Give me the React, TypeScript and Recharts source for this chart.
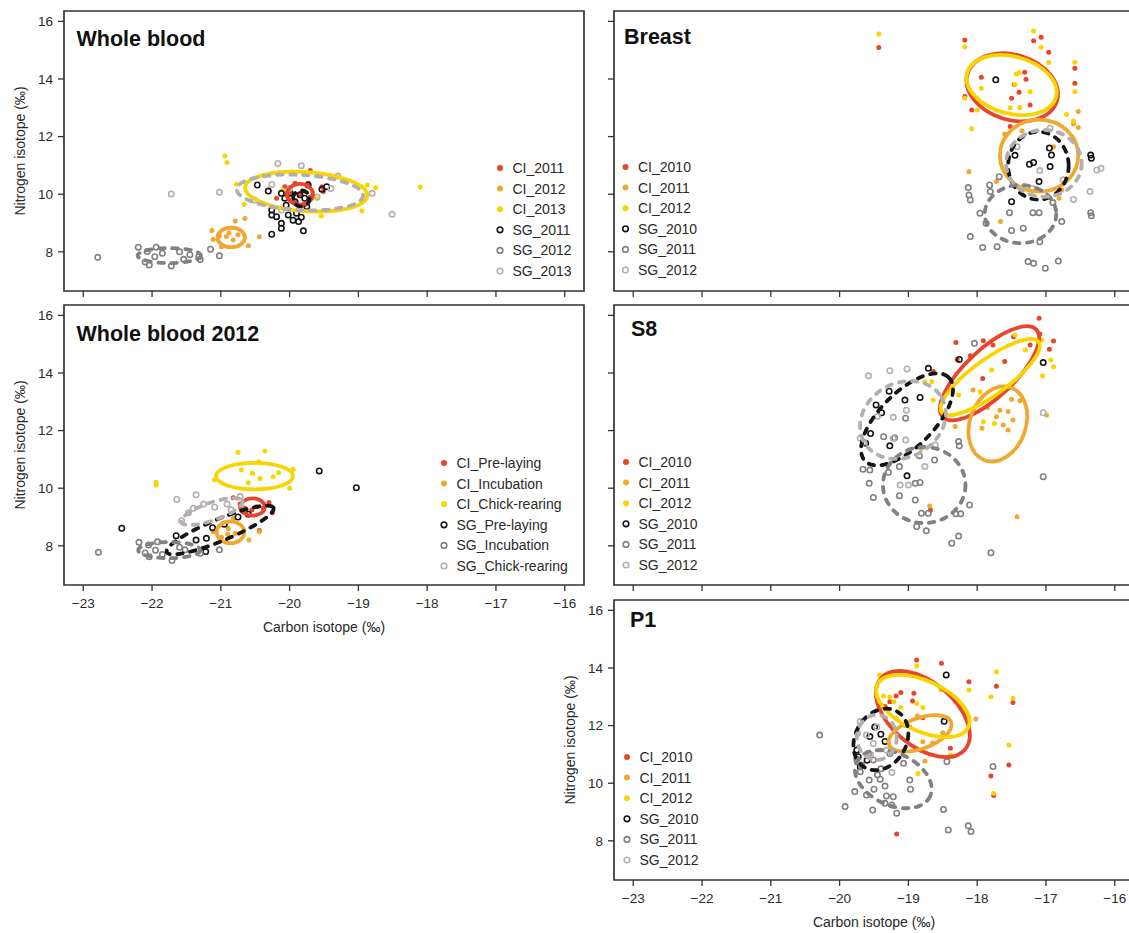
import { ScatterChart, Scatter, XAxis, YAxis, ReferenceArea } from 'recharts'

type Pt = [number, number]
// ellipse: centre x, centre y, half axis along x (carbon), half axis along y (nitrogen), tilt in degrees
type Ell = [number, number, number, number, number]

const X_TICKS = [-23, -22, -21, -20, -19, -18, -17, -16]
const Y_TICKS = [8, 10, 12, 14, 16]
const X_DOMAIN: [number, number] = [-23.28, -15.72]
const Y_DOMAIN: [number, number] = [6.64, 16.36]

// ---- Whole blood ----
const WB_NAMES = ['CI_2011', 'CI_2012', 'CI_2013', 'SG_2011', 'SG_2012', 'SG_2013']
const WB_CI_2011: Pt[] = [[-20.07, 10.26], [-19.92, 10.38], [-19.73, 10.38], [-19.53, 10.26], [-19.51, 10.09], [-19.92, 9.74], [-19.78, 9.63], [-19.99, 10.03], [-19.7, 10.82], [-20.19, 9.86], [-19.85, 10.0], [-19.7, 9.9]]
const WB_CI_2012: Pt[] = [[-21.13, 8.74], [-21.11, 8.43], [-20.99, 8.18], [-20.6, 8.21], [-20.44, 8.52], [-20.65, 9.16], [-20.79, 9.07], [-20.92, 8.53], [-20.82, 8.41], [-20.75, 8.59], [-20.88, 8.65], [-21.02, 8.55]]
const WB_CI_2013: Pt[] = [[-20.94, 11.33], [-20.91, 11.1], [-20.77, 10.35], [-20.66, 9.65], [-19.98, 10.78], [-18.95, 10.26], [-18.87, 10.32], [-18.75, 10.22], [-18.95, 9.43], [-19.54, 9.24], [-18.1, 10.25], [-19.8, 10.1], [-20.1, 10.15], [-19.6, 9.85]]
const WB_SG_2011: Pt[] = [[-20.47, 10.32], [-20.31, 10.11], [-20.12, 10.03], [-20.26, 9.45], [-20.26, 9.28], [-20.19, 9.22], [-20.12, 8.99], [-20.12, 8.82], [-20.02, 9.28], [-19.95, 9.1], [-19.87, 9.05], [-19.83, 9.2], [-19.9, 9.34], [-20.26, 8.61], [-19.8, 8.73], [-19.73, 10.32], [-19.53, 10.17], [-19.46, 10.26], [-19.85, 9.98], [-19.78, 9.86], [-19.75, 9.57], [-20.07, 9.86], [-19.99, 10.03], [-19.92, 9.74], [-20.05, 9.62]]
const WB_SG_2012: Pt[] = [[-22.79, 7.81], [-22.2, 8.16], [-22.07, 8.01], [-21.94, 8.16], [-21.96, 7.83], [-22.04, 7.54], [-21.72, 7.51], [-21.54, 7.74], [-21.32, 7.83], [-21.3, 7.73], [-21.15, 8.09], [-21.02, 7.86], [-21.85, 7.95], [-21.6, 8.0], [-22.1, 7.65], [-21.45, 7.9]]
const WB_SG_2013: Pt[] = [[-21.72, 10.01], [-21.02, 10.07], [-20.17, 11.07], [-19.83, 10.99], [-19.3, 10.63], [-18.8, 10.03], [-18.51, 9.3], [-20.26, 10.34], [-20.51, 9.8], [-20.12, 9.45], [-19.6, 9.9], [-19.4, 10.2], [-20.0, 10.2]]
const WB_ELL: Ell[] = [[-19.85, 10.0, 0.19, 0.36, 0], [-20.85, 8.5, 0.2, 0.34, 0], [-19.76, 10.09, 0.89, 0.68, -4], [-19.83, 9.85, 0.12, 0.28, 0], [-21.75, 7.87, 0.46, 0.26, 0], [-19.85, 10.06, 0.92, 0.61, -3]]

// ---- Breast ----
const BR_NAMES = ['CI_2010', 'CI_2011', 'CI_2012', 'SG_2010', 'SG_2011', 'SG_2012']
const BR_CI_2010: Pt[] = [[-19.43, 15.09], [-18.18, 15.35], [-17.18, 15.33], [-17.07, 15.45], [-16.96, 14.93], [-16.58, 14.37], [-16.58, 13.85], [-17.94, 14.06], [-17.31, 14.23], [-17.29, 13.99], [-17.39, 13.54], [-17.46, 13.81], [-17.23, 13.1], [-18.08, 12.92], [-18.18, 13.39], [-17.5, 13.33], [-17.52, 12.35]]
const BR_CI_2011: Pt[] = [[-16.53, 12.87], [-16.53, 12.32], [-16.6, 12.44], [-17.6, 12.09], [-18.12, 10.78], [-17.72, 10.44], [-17.66, 9.05], [-16.77, 10.15], [-16.81, 9.86], [-16.89, 11.65], [-17.35, 12.2]]
const BR_CI_2012: Pt[] = [[-19.43, 15.56], [-18.18, 15.12], [-17.18, 15.67], [-17.07, 15.1], [-16.96, 14.57], [-16.58, 14.58], [-16.58, 13.56], [-17.94, 13.68], [-17.43, 14.17], [-17.39, 14.22], [-17.45, 13.82], [-17.23, 13.56], [-17.38, 13.01], [-17.52, 13.0], [-18.08, 12.27], [-18.0, 12.92], [-18.18, 13.33], [-16.7, 12.77], [-16.6, 12.54]]
const BR_SG_2010: Pt[] = [[-17.73, 13.97], [-16.92, 11.36], [-16.94, 10.96], [-17.18, 11.1], [-17.24, 11.04], [-16.35, 11.36], [-16.34, 11.25], [-17.5, 9.74], [-17.1, 10.44], [-17.45, 11.35], [-16.95, 11.6]]
const BR_SG_2011: Pt[] = [[-18.13, 10.23], [-18.12, 9.97], [-18.1, 9.8], [-17.82, 10.32], [-17.81, 10.09], [-17.68, 10.61], [-17.96, 9.34], [-17.87, 8.99], [-18.1, 8.53], [-17.92, 8.15], [-17.71, 8.18], [-17.53, 9.36], [-17.5, 8.74], [-17.33, 8.82], [-17.19, 9.36], [-17.1, 9.36], [-17.09, 8.35], [-17.26, 7.66], [-17.18, 7.6], [-17.01, 7.43], [-16.82, 7.68], [-16.77, 9.05], [-16.9, 9.71], [-16.35, 9.36], [-16.34, 9.25]]
const BR_SG_2012: Pt[] = [[-16.94, 12.29], [-17.09, 10.82], [-16.36, 10.09], [-16.26, 10.84], [-16.2, 10.9], [-16.6, 9.82], [-17.42, 11.65], [-17.2, 10.2], [-16.75, 10.5]]
const BR_ELL: Ell[] = [[-17.49, 13.71, 0.68, 1.13, -17], [-17.1, 11.34, 0.57, 1.25, 0], [-17.5, 13.79, 0.67, 0.99, -15], [-17.11, 10.99, 0.44, 1.18, 0], [-17.37, 9.31, 0.52, 1.01, 0], [-17.03, 11.07, 0.55, 1.16, 0]]

// ---- Whole blood 2012 ----
const WB12_NAMES = ['CI_Pre-laying', 'CI_Incubation', 'CI_Chick-rearing', 'SG_Pre-laying', 'SG_Incubation', 'SG_Chick-rearing']
const WB12_CI_PRE: Pt[] = [[-20.82, 9.67], [-20.3, 9.5], [-20.25, 9.15], [-20.44, 8.53], [-20.65, 9.3], [-20.48, 9.36], [-20.55, 9.24], [-20.72, 9.45], [-20.38, 9.3]]
const WB12_CI_INC: Pt[] = [[-21.11, 8.49], [-20.59, 8.2], [-20.44, 8.49], [-20.82, 8.96], [-20.89, 8.6], [-20.79, 8.43], [-20.99, 8.3], [-20.9, 8.4]]
const WB12_CI_CHICK: Pt[] = [[-20.75, 11.25], [-20.36, 11.29], [-21.94, 10.21], [-21.94, 10.11], [-21.09, 10.29], [-20.45, 10.92], [-20.54, 10.52], [-20.43, 10.34], [-20.24, 10.4], [-20.6, 10.19], [-20.0, 10.0], [-19.95, 10.66], [-20.7, 10.63], [-20.16, 10.54]]
const WB12_SG_PRE: Pt[] = [[-22.44, 8.61], [-19.57, 10.6], [-19.03, 10.02], [-21.65, 8.35], [-21.36, 8.2], [-21.21, 8.26], [-21.22, 7.8], [-21.12, 8.63], [-20.95, 8.75], [-20.75, 9.0], [-20.6, 9.1]]
const WB12_SG_INC: Pt[] = [[-22.78, 7.78], [-22.19, 8.12], [-22.05, 8.03], [-21.92, 8.14], [-22.04, 7.62], [-21.71, 7.49], [-21.52, 7.86], [-21.3, 7.74], [-21.02, 7.86], [-21.95, 7.85], [-21.85, 7.7], [-21.6, 7.95], [-22.1, 7.75]]
const WB12_SG_CHICK: Pt[] = [[-21.64, 9.61], [-21.36, 9.77], [-20.72, 9.71], [-21.09, 9.34], [-21.57, 8.87], [-21.47, 9.15], [-21.4, 9.3], [-20.91, 9.45], [-21.25, 9.45], [-20.85, 9.25]]
const WB12_ELL: Ell[] = [[-20.54, 9.35, 0.18, 0.3, 0], [-20.86, 8.47, 0.2, 0.38, 0], [-20.51, 10.42, 0.56, 0.46, 0], [-21.01, 8.55, 0.84, 0.38, 22.6], [-21.75, 7.85, 0.45, 0.28, 0], [-21.13, 9.19, 0.47, 0.31, 19]]

// ---- S8 ----
const S8_CI_2010: Pt[] = [[-17.1, 15.9], [-18.31, 15.06], [-17.77, 14.97], [-17.09, 15.35], [-16.89, 15.11], [-16.95, 14.82], [-18.29, 14.47], [-17.92, 13.81], [-18.64, 14.05], [-18.68, 9.24], [-17.47, 15.26], [-17.23, 14.97], [-17.91, 15.12], [-18.1, 14.6], [-17.6, 14.4]]
const S8_CI_2011: Pt[] = [[-18.06, 13.41], [-18.32, 12.14], [-17.67, 12.71], [-17.55, 12.66], [-17.5, 13.09], [-17.38, 13.04], [-17.72, 12.48], [-17.62, 12.19], [-17.48, 12.37], [-17.55, 12.02], [-17.93, 12.08], [-16.99, 12.54], [-17.42, 9.01], [-18.69, 9.38], [-17.85, 12.8]]
const S8_CI_2012: Pt[] = [[-17.45, 15.32], [-17.06, 15.14], [-16.93, 14.45], [-16.89, 14.22], [-17.05, 13.9], [-17.79, 14.1], [-18.27, 13.24], [-18.64, 13.06], [-18.76, 13.7], [-17.91, 12.31], [-17.75, 12.25], [-17.96, 13.35], [-18.81, 11.38], [-18.66, 13.7], [-17.3, 14.8]]
const S8_SG_2010: Pt[] = [[-18.71, 14.16], [-18.26, 14.47], [-17.04, 14.36], [-19.28, 13.37], [-19.05, 13.06], [-18.83, 13.15], [-19.47, 12.89], [-19.39, 12.62], [-19.27, 11.47], [-19.02, 10.43], [-19.62, 11.56], [-19.55, 11.9]]
const S8_SG_2011: Pt[] = [[-18.04, 15.03], [-19.04, 12.43], [-19.36, 11.79], [-19.2, 11.75], [-18.84, 11.13], [-18.62, 10.98], [-18.27, 11.62], [-18.26, 11.47], [-19.13, 10.75], [-19.56, 10.63], [-19.57, 10.17], [-19.51, 9.68], [-19.13, 9.74], [-18.9, 10.17], [-18.83, 10.2], [-18.9, 9.59], [-18.81, 9.13], [-18.71, 9.13], [-18.88, 8.67], [-18.74, 8.52], [-18.31, 9.11], [-18.24, 9.11], [-18.11, 9.42], [-18.27, 8.34], [-18.37, 8.09], [-17.8, 7.76], [-17.04, 10.4], [-19.66, 10.66], [-19.29, 10.55]]
const S8_SG_2012: Pt[] = [[-19.58, 13.9], [-19.27, 14.08], [-19.02, 14.14], [-19.03, 12.71], [-19.22, 12.46], [-19.7, 11.73], [-19.65, 11.6], [-19.22, 11.73], [-19.04, 11.67], [-18.76, 10.75], [-17.04, 12.62], [-18.83, 11.45], [-18.61, 11.5], [-19.12, 10.11], [-19.0, 10.11], [-19.45, 12.5]]
const S8_ELL: Ell[] = [[-17.82, 13.99, 0.93, 0.83, 43], [-17.7, 12.23, 0.56, 0.97, 70], [-17.81, 13.86, 0.87, 0.62, 36], [-19.02, 12.39, 0.86, 0.94, 45], [-18.77, 10.11, 0.6, 1.32, 0], [-19.08, 12.37, 0.65, 1.28, 30]]

// ---- P1 ----
const P1_CI_2010: Pt[] = [[-18.88, 14.28], [-18.52, 14.16], [-18.12, 13.52], [-17.72, 13.37], [-17.48, 12.8], [-17.54, 10.63], [-17.8, 10.25], [-17.76, 9.57], [-19.17, 8.24], [-19.11, 13.15], [-18.92, 13.12], [-19.18, 13.03], [-19.27, 12.83], [-18.94, 12.85], [-18.79, 12.27], [-18.39, 11.21], [-19.34, 12.66]]
const P1_CI_2011: Pt[] = [[-18.02, 12.23], [-18.87, 12.33], [-18.79, 11.44], [-18.76, 10.77], [-18.98, 11.96], [-19.41, 11.15], [-18.5, 11.75], [-19.05, 12.0], [-18.65, 11.4]]
const P1_CI_2012: Pt[] = [[-18.88, 14.07], [-19.42, 13.76], [-17.72, 13.87], [-18.12, 13.24], [-17.8, 13.0], [-17.48, 12.95], [-17.54, 11.33], [-17.76, 9.65], [-19.36, 13.03], [-19.27, 13.0], [-19.21, 12.83], [-18.79, 12.63], [-19.11, 12.63], [-18.88, 12.77], [-18.53, 13.24], [-19.17, 12.25], [-18.86, 10.34], [-18.39, 10.98]]
const P1_SG_2010: Pt[] = [[-18.45, 13.76], [-18.48, 12.15], [-19.49, 11.95], [-19.34, 11.45], [-19.75, 11.15], [-19.73, 10.92], [-19.56, 11.62], [-19.7, 10.57], [-19.6, 10.8], [-19.4, 11.7]]
const P1_SG_2011: Pt[] = [[-20.29, 11.67], [-19.92, 9.19], [-19.52, 9.07], [-19.17, 8.96], [-18.49, 9.09], [-18.42, 8.38], [-18.13, 8.52], [-18.09, 8.32], [-17.77, 10.58], [-18.44, 10.75], [-19.78, 9.71], [-19.57, 10.11], [-19.45, 10.29], [-19.41, 10.14], [-19.34, 9.9], [-19.5, 9.79], [-19.61, 9.59], [-19.32, 9.56], [-19.22, 9.53], [-18.98, 10.11], [-18.97, 9.79], [-19.75, 10.83], [-19.68, 10.63], [-19.58, 11.03], [-19.51, 10.81], [-19.07, 10.69], [-19.27, 11.03], [-19.34, 9.3], [-19.24, 9.24], [-19.7, 10.4], [-19.4, 10.5]]
const P1_SG_2012: Pt[] = [[-19.7, 12.14], [-19.74, 11.73], [-19.24, 10.37], [-19.32, 11.15], [-19.61, 11.67], [-19.51, 11.38], [-19.46, 11.95], [-19.55, 11.0]]
const P1_ELL: Ell[] = [[-18.79, 12.4, 0.8, 1.11, -40], [-18.83, 11.73, 0.48, 0.53, 20], [-18.79, 12.68, 0.73, 0.87, -25], [-19.4, 11.52, 0.47, 0.89, 60], [-19.22, 10.14, 0.59, 0.9, -25], [-19.46, 11.59, 0.29, 0.78, 0]]

const RED = '#e8452c'
const ORANGE = '#f0a830'
const YELLOW = '#f8d500'
const BLACK = '#151515'
const DGRAY = '#828080'
const LGRAY = '#b4afad'
const FRAME = '#333333'
const SERIES_COLORS = [RED, ORANGE, YELLOW, BLACK, DGRAY, LGRAY]
const FONT = '"Liberation Sans", Arial, Helvetica, sans-serif'

const PLOT_W = 520
const PLOT_H = 280
const KX = PLOT_W / (X_DOMAIN[1] - X_DOMAIN[0])
const KY = PLOT_H / (Y_DOMAIN[1] - Y_DOMAIN[0])

interface PanelDef {
  title: string
  names: string[]
  points: Pt[][]
  ellipses: Ell[]
  left: number
  top: number
  xLabels: boolean
  yLabels: boolean
  titleX: number
  titleY: number
  legendX: number
  legendY: number
}

const PANELS: PanelDef[] = [
  { title: 'Whole blood', names: WB_NAMES, points: [WB_CI_2011, WB_CI_2012, WB_CI_2013, WB_SG_2011, WB_SG_2012, WB_SG_2013], ellipses: WB_ELL, left: 0, top: 0, xLabels: false, yLabels: true, titleX: 76.5, titleY: 46, legendX: 500, legendY: 168 },
  { title: 'Breast', names: BR_NAMES, points: [BR_CI_2010, BR_CI_2011, BR_CI_2012, BR_SG_2010, BR_SG_2011, BR_SG_2012], ellipses: BR_ELL, left: 550, top: 0, xLabels: false, yLabels: false, titleX: 624, titleY: 43.5, legendX: 625.5, legendY: 167 },
  { title: 'Whole blood 2012', names: WB12_NAMES, points: [WB12_CI_PRE, WB12_CI_INC, WB12_CI_CHICK, WB12_SG_PRE, WB12_SG_INC, WB12_SG_CHICK], ellipses: WB12_ELL, left: 0, top: 294, xLabels: true, yLabels: true, titleX: 76.5, titleY: 340.5, legendX: 444, legendY: 463 },
  { title: 'S8', names: BR_NAMES, points: [S8_CI_2010, S8_CI_2011, S8_CI_2012, S8_SG_2010, S8_SG_2011, S8_SG_2012], ellipses: S8_ELL, left: 550, top: 294, xLabels: false, yLabels: false, titleX: 631, titleY: 335.5, legendX: 626, legendY: 462 },
  { title: 'P1', names: BR_NAMES, points: [P1_CI_2010, P1_CI_2011, P1_CI_2012, P1_SG_2010, P1_SG_2011, P1_SG_2012], ellipses: P1_ELL, left: 550, top: 589, xLabels: true, yLabels: true, titleX: 630, titleY: 626.5, legendX: 627, legendY: 757 },
]

const fmtX = (v: number) => (v < 0 ? `\u2212${Math.abs(v)}` : `${v}`)

const yTitle = (props: any) => {
  const vb = props.viewBox ?? { x: 14, y: 11, width: 50, height: PLOT_H }
  const x = vb.x + 6
  const y = vb.y + vb.height / 2
  return (
    <text x={x} y={y} transform={`rotate(-90 ${x} ${y})`} textAnchor="middle" dominantBaseline="central" fontSize={14} fill="#2a2a2a" fontFamily={FONT}>
      Nitrogen isotope (‰)
    </text>
  )
}

function Panel({ p }: { p: PanelDef }) {
  return (
    <div style={{ position: 'absolute', left: p.left, top: p.top }}>
      <ScatterChart width={600} height={343} margin={{ top: 11, right: 16, bottom: 0, left: 14 }}>
        <XAxis
          type="number"
          dataKey="x"
          domain={X_DOMAIN}
          ticks={X_TICKS}
          interval={0}
          allowDataOverflow
          axisLine={false}
          height={52}
          tickSize={6}
          tickMargin={7}
          tickLine={{ stroke: FRAME, strokeWidth: 1.3 }}
          tick={{ fontSize: 13.5, fill: '#2a2a2a', fontFamily: FONT }}
          tickFormatter={p.xLabels ? fmtX : () => ''}
          label={p.xLabels ? { value: 'Carbon isotope (‰)', position: 'insideBottom', offset: 5, fontSize: 14, fill: '#2a2a2a', fontFamily: FONT } : undefined}
        />
        <YAxis
          type="number"
          dataKey="y"
          domain={Y_DOMAIN}
          ticks={Y_TICKS}
          interval={0}
          allowDataOverflow
          axisLine={false}
          width={50}
          tickSize={6}
          tickMargin={5}
          tickLine={{ stroke: FRAME, strokeWidth: 1.3 }}
          tick={{ fontSize: 13.5, fill: '#2a2a2a', fontFamily: FONT }}
          tickFormatter={p.yLabels ? (v: number) => `${v}` : () => ''}
          label={p.yLabels ? yTitle : undefined}
        />
        <ReferenceArea x1={X_DOMAIN[0]} x2={X_DOMAIN[1]} y1={Y_DOMAIN[0]} y2={Y_DOMAIN[1]} fill="none" fillOpacity={0} stroke={FRAME} strokeWidth={1.7} strokeOpacity={1} />
        {p.points.map((pts, i) => {
          const color = SERIES_COLORS[i]
          const open = i >= 3
          return (
            <Scatter
              key={`pts-${i}`}
              name={p.names[i]}
              data={pts.map(([x, y]) => ({ x, y }))}
              isAnimationActive={false}
              shape={(s: any) =>
                open ? (
                  <circle cx={s.cx} cy={s.cy} r={2.7} fill="none" stroke={color} strokeWidth={1.6} />
                ) : (
                  <circle cx={s.cx} cy={s.cy} r={2.5} fill={color} />
                )
              }
            />
          )
        })}
        {p.ellipses.map((e, i) => {
          const color = SERIES_COLORS[i]
          const dashed = i >= 3
          return (
            <Scatter
              key={`ell-${i}`}
              data={[{ x: e[0], y: e[1] }]}
              isAnimationActive={false}
              shape={(s: any) => (
                <ellipse
                  cx={s.cx}
                  cy={s.cy}
                  rx={e[2] * KX}
                  ry={e[3] * KY}
                  transform={`rotate(${-e[4]} ${s.cx} ${s.cy})`}
                  fill="none"
                  stroke={color}
                  strokeWidth={3.8}
                  strokeLinecap="round"
                  strokeDasharray={dashed ? '5.5 7.5' : undefined}
                />
              )}
            />
          )
        })}
      </ScatterChart>
    </div>
  )
}

function Overlay() {
  return (
    <svg width={1129} height={933} style={{ position: 'absolute', left: 0, top: 0, pointerEvents: 'none' }} fontFamily={FONT}>
      {PANELS.map((p) => (
        <g key={p.title}>
          <text x={p.titleX} y={p.titleY} fontSize={21.5} fontWeight="bold" fill="#111">
            {p.title}
          </text>
          {p.names.map((n, i) => {
            const cy = p.legendY + i * 20.6
            return (
              <g key={n}>
                {i >= 3 ? (
                  <circle cx={p.legendX} cy={cy} r={2.8} fill="none" stroke={SERIES_COLORS[i]} strokeWidth={1.6} />
                ) : (
                  <circle cx={p.legendX} cy={cy} r={3} fill={SERIES_COLORS[i]} />
                )}
                <text x={p.legendX + 12.5} y={cy + 5} fontSize={14} fill="#2a2a2a">
                  {n}
                </text>
              </g>
            )
          })}
        </g>
      ))}
    </svg>
  )
}

export default function App() {
  return (
    <div style={{ position: 'absolute', left: 0, top: 0, width: 1129, height: 933, overflow: 'hidden', background: '#fff', fontFamily: FONT }}>
      {PANELS.map((p) => (
        <Panel key={p.title} p={p} />
      ))}
      <Overlay />
    </div>
  )
}
